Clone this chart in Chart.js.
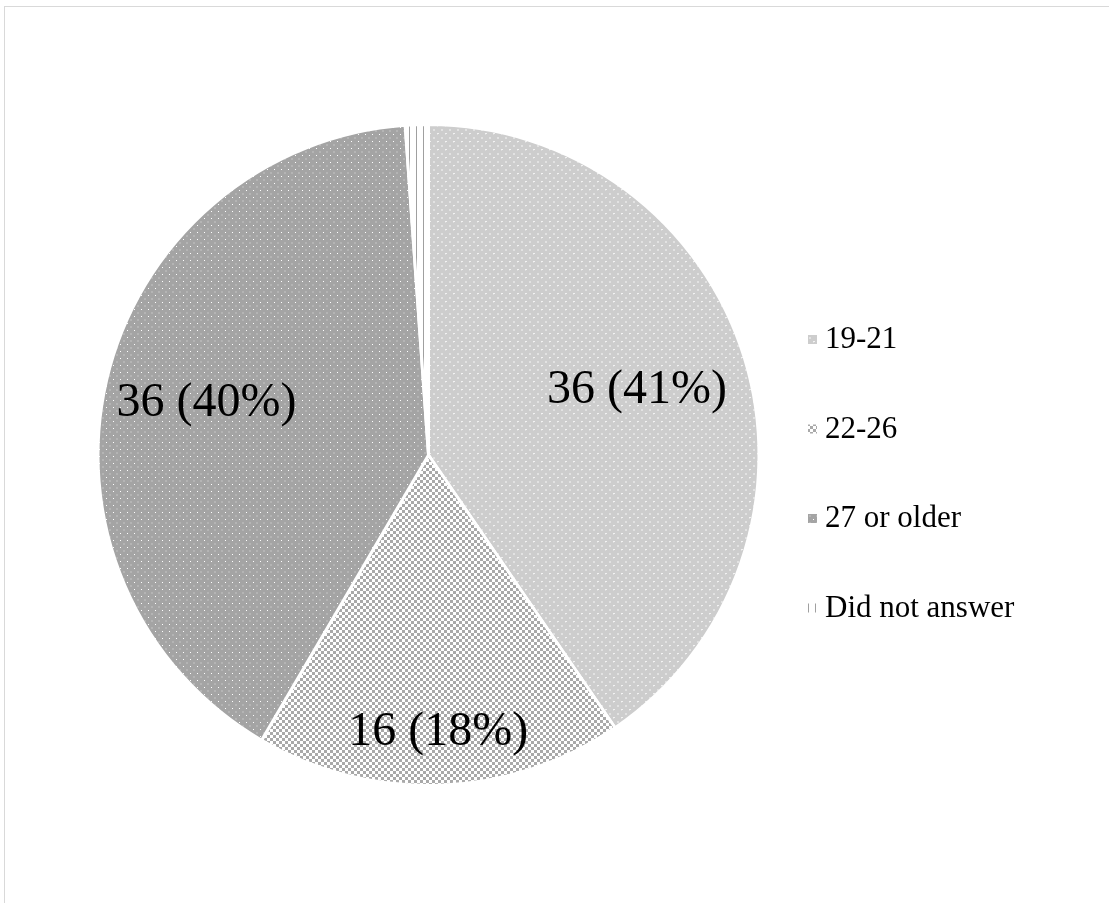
<!DOCTYPE html>
<html>
<head>
<meta charset="utf-8">
<script src="https://cdn.jsdelivr.net/npm/chart.js@4.4.1/dist/chart.umd.min.js"></script>
<style>
  html, body { margin: 0; padding: 0; background: #fff; overflow: hidden; }
  #wrap { position: relative; width: 1109px; height: 903px; overflow: hidden; }
  #frame { position: absolute; left: 4px; top: 6px; width: 1200px; height: 1000px; border: 1px solid #d9d9d9; box-sizing: border-box; }
  canvas { position: absolute; left: 0; top: 0; }
</style>
</head>
<body>
<div id="wrap">
  <div id="frame"></div>
  <canvas id="chart" width="1109" height="903"></canvas>
</div>
<script>
// age groups and counts
const categories = ['19-21', '22-26', '27 or older', 'Did not answer'];
const counts = [36, 16, 36, 1];
const percentLabels = ['41%', '18%', '40%', '1%'];
const showLabel = [true, true, true, false];

// build the fill patterns (greyscale hatch like the original)
function makeTile(size, draw) {
    const c = document.createElement('canvas');
    c.width = size; c.height = size;
    const g = c.getContext('2d');
    draw(g);
    return c;
}

const tiles = [
    makeTile(8, g => {
        g.fillStyle = '#cdcdcd'; g.fillRect(0, 0, 8, 8);
        g.fillStyle = '#e2e2e2'; g.fillRect(1, 1, 2, 2);
        g.fillStyle = '#f2f2f2'; g.fillRect(5, 5, 2, 1);
        g.fillStyle = '#dcdcdc'; g.fillRect(5, 6, 1, 1);
    }),
    makeTile(6, g => {
        g.fillStyle = '#ffffff'; g.fillRect(0, 0, 6, 6);
        g.fillStyle = '#a9a9a9'; g.fillRect(0, 0, 3, 3); g.fillRect(3, 3, 3, 3);
    }),
    makeTile(7, g => {
        g.fillStyle = '#a4a4a4'; g.fillRect(0, 0, 7, 7);
        g.fillStyle = '#b4b4b4'; g.fillRect(4, 4, 2, 2);
        g.fillStyle = '#ffffff'; g.fillRect(1, 1, 1, 1);
    }),
    makeTile(7, g => {
        g.fillStyle = '#ffffff'; g.fillRect(0, 0, 7, 7);
        g.fillStyle = '#a0a0a0'; g.fillRect(3, 0, 1, 7);
    })
];

const ctx = document.getElementById('chart').getContext('2d');
const patterns = tiles.map(t => ctx.createPattern(t, 'repeat'));

const labelPlugin = {
    id: 'sliceLabels',
    afterDatasetsDraw(chart) {
        const meta = chart.getDatasetMeta(0);
        const radial = [0.66, 0.84, 0.69, 0.7];
        const c = chart.ctx;
        c.save();
        c.font = '48px "Liberation Serif", "Times New Roman", serif';
        c.fillStyle = '#000';
        c.textAlign = 'center';
        c.textBaseline = 'middle';
        meta.data.forEach((arc, i) => {
            if (!showLabel[i]) return;
            const p = arc.getProps(['x', 'y', 'startAngle', 'endAngle', 'outerRadius'], true);
            const mid = (p.startAngle + p.endAngle) / 2;
            const r = p.outerRadius * radial[i];
            c.fillText(counts[i] + ' (' + percentLabels[i] + ')', p.x + Math.cos(mid) * r, p.y + Math.sin(mid) * r);
        });
        c.restore();
    }
};

const legendPlugin = {
    id: 'sideLegend',
    afterDraw(chart) {
        const c = chart.ctx;
        c.save();
        c.font = '31px "Liberation Serif", "Times New Roman", serif';
        c.textBaseline = 'middle';
        categories.forEach((name, i) => {
            const y = 340 + i * 89.5;
            c.fillStyle = patterns[i];
            c.fillRect(808, y - 5, 9, 9);
            c.fillStyle = '#000';
            c.fillText(name, 825, y);
        });
        c.restore();
    }
};

new Chart(ctx, {
    type: 'pie',
    data: {
        labels: categories,
        datasets: [{
            data: counts,
            backgroundColor: patterns,
            borderColor: '#ffffff',
            borderWidth: 3
        }]
    },
    options: {
        responsive: false,
        animation: false,
        layout: { padding: { left: 96, top: 123, right: 348, bottom: 116 } },
        plugins: {
            legend: { display: false },
            tooltip: { enabled: false }
        }
    },
    plugins: [labelPlugin, legendPlugin]
});
</script>
</body>
</html>
